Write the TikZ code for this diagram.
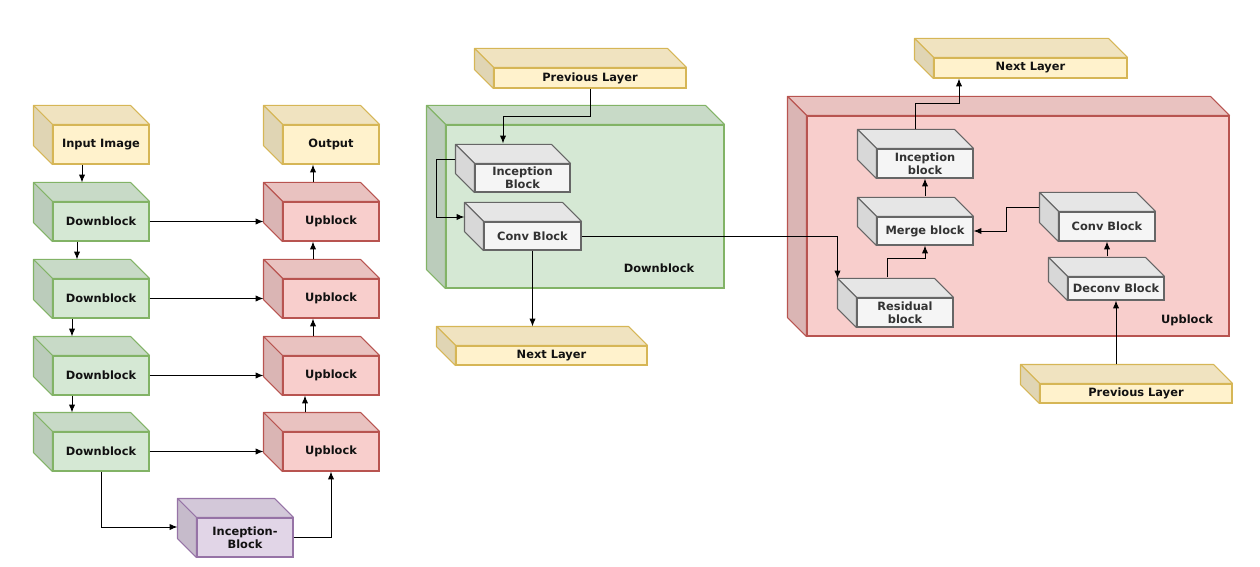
\documentclass[tikz,border=0pt]{standalone}
\usepackage{fontspec}
\setmainfont{DejaVu Sans}
\usetikzlibrary{arrows.meta}

\definecolor{yelfill}{HTML}{FFF2CC}
\definecolor{yelline}{HTML}{D6B656}
\definecolor{grnfill}{HTML}{D5E8D4}
\definecolor{grnline}{HTML}{82B366}
\definecolor{redfill}{HTML}{F8CECC}
\definecolor{redline}{HTML}{B85450}
\definecolor{purfill}{HTML}{E1D5E7}
\definecolor{purline}{HTML}{9673A6}
\definecolor{gryfill}{HTML}{F5F5F5}
\definecolor{gryline}{HTML}{666666}
\definecolor{yeltext}{HTML}{111111}
\definecolor{grntext}{HTML}{111111}
\definecolor{redtext}{HTML}{111111}
\definecolor{purtext}{HTML}{111111}
\definecolor{grytext}{HTML}{333333}

\tikzset{
  cubefront/.style={fill=#1fill, draw=#1line, text=#1text, line width=0.6pt, inner sep=0pt,
    align=center, font=\bfseries\fontsize{6.5}{7.4}\selectfont},
  cubetop/.style={fill=#1fill!94!black, draw=#1line, line width=0.6pt, line join=round},
  cubeside/.style={fill=#1fill!88!black, draw=#1line, line width=0.6pt, line join=round},
  conn/.style={-{Latex[length=4.5pt,width=3.6pt]}, line width=0.55pt},
  boxlabel/.style={font=\bfseries\fontsize{6.5}{7.4}\selectfont, text=yeltext}
}

% front face as a node, then top and left faces behind it
\newcommand{\cubeblock}[6]{%
  \node[cubefront=#2, minimum width=#4*0.02cm, minimum height=#5*0.02cm] (#1) at (#3) {#6};
  \filldraw[cubetop=#2] (#1.north west) -- ++(-19,-19) -- ([shift={(-19,-19)}]#1.north east) -- (#1.north east) -- cycle;
  \filldraw[cubeside=#2] (#1.north west) -- ++(-19,-19) -- ([shift={(-19,-19)}]#1.south west) -- (#1.south west) -- cycle;
}

\begin{document}
\begin{tikzpicture}[x=0.02cm, y=-0.02cm]
    \useasboundingbox (0,0) rectangle (1260,567);

    % Left network
    \cubeblock{in}{yel}{101,144.5}{96}{39}{Input Image}
    \cubeblock{out}{yel}{331,144.5}{96}{39}{Output}
    \foreach \i/\y in {1/221.5,2/298.5,3/375.5,4/451.5} {
        \cubeblock{d\i}{grn}{101,\y}{96}{39}{Downblock}
        \cubeblock{u\i}{red}{331,\y}{96}{39}{Upblock}
    }
    \cubeblock{inc}{pur}{245,537.5}{96}{39}{Inception-\\Block}

    % Downblock detail
    \cubeblock{dbox}{grn}{585,206.5}{278}{163}{}
    \node[boxlabel] (dlabel) at (659,268) {Downblock};
    \cubeblock{prev}{yel}{590,78}{192}{20}{Previous Layer}
    \cubeblock{incb}{gry}{522.5,178}{95}{28}{Inception\\Block}
    \cubeblock{conv}{gry}{532.5,236}{97}{28}{Conv Block}
    \cubeblock{nextM}{yel}{551.5,355.5}{191}{19}{Next Layer}

    % Upblock detail
    \cubeblock{ubox}{red}{1018,226}{422}{220}{}
    \node[boxlabel] (ulabel) at (1187,320) {Upblock};
    \cubeblock{nextR}{yel}{1030.5,68}{193}{20}{Next Layer}
    \cubeblock{incR}{gry}{925,163.5}{96}{29}{Inception\\block}
    \cubeblock{merge}{gry}{925,231}{96}{28}{Merge block}
    \cubeblock{convR}{gry}{1107,226.5}{96}{29}{Conv Block}
    \cubeblock{deconv}{gry}{1116,288.5}{96}{23}{Deconv Block}
    \cubeblock{resid}{gry}{905,312.5}{96}{29}{Residual\\block}
    \cubeblock{prevR}{yel}{1136,393.5}{192}{19}{Previous Layer}

    % Left arrows
    \draw[conn] ([xshift=-0.38cm]in.south) -- ([xshift=-0.38cm,yshift=0.38cm]d1.north);
    \draw[conn] ([xshift=-0.48cm]d1.south) -- ([xshift=-0.48cm,yshift=0.38cm]d2.north);
    \draw[conn] ([xshift=-0.58cm]d2.south) -- ([xshift=-0.58cm,yshift=0.38cm]d3.north);
    \draw[conn] ([xshift=-0.58cm]d3.south) -- ([xshift=-0.58cm,yshift=0.38cm]d4.north);
    \foreach \i in {1,2,3,4} {
        \draw[conn] (d\i.east) -- ([xshift=-0.38cm]u\i.west);
    }
    \draw[conn] ([xshift=-0.36cm,yshift=0.38cm]u1.north) -- ([xshift=-0.36cm]out.south);
    \draw[conn] ([xshift=-0.36cm,yshift=0.38cm]u2.north) -- ([xshift=-0.36cm]u1.south);
    \draw[conn] ([xshift=-0.36cm,yshift=0.38cm]u3.north) -- ([xshift=-0.36cm]u2.south);
    \draw[conn] ([xshift=-0.52cm,yshift=0.38cm]u4.north) -- ([xshift=-0.52cm]u3.south);
    \draw[conn] (d4.south) |- ([shift={(-19,-10.5)}]inc.west);
    \draw[conn] (inc.east) -| (u4.south);

    % Downblock arrows
    \draw[conn] (prev.south) -- ++(0,28) -| ([shift={(-19.5,-20)}]incb.north);
    \draw[conn] ([shift={(-19,-19)}]incb.west) -- ++(-19,0) |- ([shift={(-19,-19)}]conv.west);
    \draw[conn] (conv.south) -- ([shift={(-19,-19)}]nextM.north);
    \draw[conn] (conv.east) -| ([shift={(-19,-19)}]resid.north west);

    % Upblock arrows
    \draw[conn] ([shift={(-10,-19)}]incR.north) -- ++(0,-26) -| ([shift={(-71.5,0)}]nextR.south);
    \draw[conn] ([shift={(0,-20)}]merge.north) -- (incR.south);
    \draw[conn] ([shift={(-19,-19)}]convR.west) -- ++(-33,0) |- (merge.east);
    \draw[conn] ([shift={(-9,-20)}]deconv.north) -- (convR.south);
    \draw[conn] ([shift={(-18,-20)}]resid.north) -- ++(0,-19) -| (merge.south);
    \draw[conn] ([shift={(-20,-19)}]prevR.north) -- (deconv.south);

\end{tikzpicture}
\end{document}
